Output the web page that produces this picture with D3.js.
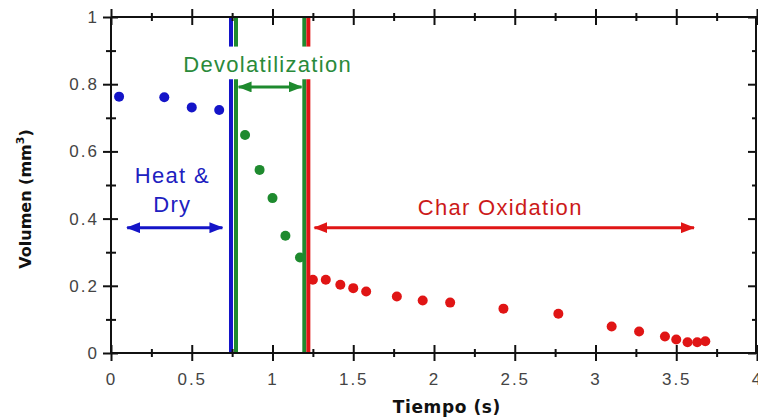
<!DOCTYPE html>
<html lang="es">
<head>
<meta charset="utf-8">
<title>Volumen vs Tiempo</title>
<script src="https://cdn.jsdelivr.net/npm/d3@7"></script>
<style>
  body { margin: 0; background: white; }
  svg { display: block; background: white; }
  .tick text { font-family: "Liberation Sans", Arial, sans-serif; font-size: 17px; letter-spacing: 2px; fill: #444; }
  .title { font-family: "DejaVu Sans", Verdana, sans-serif; font-weight: bold; font-size: 16px; fill: #111; }
  .note { font-family: "Liberation Sans", Arial, sans-serif; font-size: 22px; letter-spacing: 1.3px; }
</style>
</head>
<body>
<script>
// data
var heatT = [0.05, 0.33, 0.50, 0.67];
var heatV = [0.763, 0.761, 0.731, 0.723];
var devolT = [0.83, 0.92, 1.00, 1.08, 1.17];
var devolV = [0.649, 0.545, 0.461, 0.349, 0.284];
var charT = [1.25, 1.33, 1.42, 1.50, 1.58, 1.77, 1.93, 2.10, 2.43, 2.77, 3.10, 3.27, 3.43, 3.50, 3.57, 3.63, 3.68];
var charV = [0.218, 0.218, 0.203, 0.193, 0.183, 0.168, 0.156, 0.150, 0.132, 0.117, 0.079, 0.064, 0.049, 0.040, 0.032, 0.032, 0.035];

var xTicks = [0, 0.5, 1, 1.5, 2, 2.5, 3, 3.5, 4];
var xTickLabels = ["0", "0.5", "1", "1.5", "2", "2.5", "3", "3.5", "4"];
var xMinor = [0.25, 0.75, 1.25, 1.75, 2.25, 2.75, 3.25, 3.75];
var yTicks = [0, 0.2, 0.4, 0.6, 0.8, 1];
var yTickLabels = ["0", "0.2", "0.4", "0.6", "0.8", "1"];
var yMinor = [0.1, 0.3, 0.5, 0.7, 0.9];

// phase boundaries (time) and their colours
var boundT = [0.743, 0.774, 1.197, 1.222];
var boundColor = ["#1414c8", "#1e8a2e", "#1e8a2e", "#e01515"];
var gapV = [0.815, 0.912];   // break in the lines behind the label

var blue = "#1414c8", green = "#1e8a2e", red = "#e01515";

var W = 758, H = 418;
var svg = d3.select("body").append("svg").attr("width", W).attr("height", H);

var x = d3.scaleLinear().domain([0, 4]).range([111, 757]);
var y = d3.scaleLinear().domain([0, 1]).range([353, 17]);

var defs = svg.append("defs");
[["blue", blue], ["green", green], ["red", red]].forEach(function(c) {
  defs.append("marker")
    .attr("id", "arr-" + c[0])
    .attr("viewBox", "0 0 14 11")
    .attr("markerUnits", "userSpaceOnUse")
    .attr("markerWidth", 14).attr("markerHeight", 11)
    .attr("refX", 13).attr("refY", 5.5)
    .attr("orient", "auto-start-reverse")
    .append("path").attr("d", "M0,0L14,5.5L0,11Z").attr("fill", c[1]);
});

// phase boundary lines, broken for the label
boundT.forEach(function(t, i) {
  [[0, gapV[0]], [gapV[1], 1]].forEach(function(seg) {
    svg.append("line")
      .attr("x1", x(t)).attr("x2", x(t))
      .attr("y1", y(seg[0])).attr("y2", y(seg[1]))
      .attr("stroke", boundColor[i]).attr("stroke-width", 4);
  });
});

// axes
var axBottom = svg.append("g").attr("transform", "translate(0," + y(0) + ")")
  .call(d3.axisBottom(x).tickValues(xTicks).tickSize(8).tickPadding(12)
    .tickFormat(function(d, i) { return xTickLabels[i]; }));
axBottom.selectAll(".tick line").attr("y1", -8).attr("y2", 8);
var axBottomMinor = svg.append("g").attr("transform", "translate(0," + y(0) + ")")
  .call(d3.axisBottom(x).tickValues(xMinor).tickSize(4).tickFormat(""));
axBottomMinor.selectAll(".tick line").attr("y1", -4);

var axLeft = svg.append("g").attr("transform", "translate(" + x(0) + ",0)")
  .call(d3.axisLeft(y).tickValues(yTicks).tickSize(8).tickPadding(4)
    .tickFormat(function(d, i) { return yTickLabels[i]; }));
axLeft.selectAll(".tick line").attr("x1", -8).attr("x2", 7);
var axLeftMinor = svg.append("g").attr("transform", "translate(" + x(0) + ",0)")
  .call(d3.axisLeft(y).tickValues(yMinor).tickSize(5).tickFormat(""));
axLeftMinor.selectAll(".tick line").attr("x1", -5).attr("x2", 5);

var axTop = svg.append("g").attr("transform", "translate(0," + y(1) + ")")
  .call(d3.axisTop(x).tickValues(xTicks).tickSize(8).tickFormat(""));
axTop.selectAll(".tick line").attr("y1", -8).attr("y2", 8);
var axTopMinor = svg.append("g").attr("transform", "translate(0," + y(1) + ")")
  .call(d3.axisTop(x).tickValues(xMinor).tickSize(4).tickFormat(""));
axTopMinor.selectAll(".tick line").attr("y1", -4).attr("y2", 4);

var axRight = svg.append("g").attr("transform", "translate(" + (x(4) - 1) + ",0)")
  .call(d3.axisLeft(y).tickValues(yTicks).tickSize(8).tickFormat(""));
var axRightMinor = svg.append("g").attr("transform", "translate(" + (x(4) - 1) + ",0)")
  .call(d3.axisLeft(y).tickValues(yMinor).tickSize(4).tickFormat(""));

svg.selectAll(".domain").attr("stroke", "#111").attr("stroke-width", 2);
svg.selectAll(".tick line").attr("stroke", "#111").attr("stroke-width", 2);
// plain frame lines instead of d3's capped domain paths
[axBottomMinor, axLeftMinor, axTopMinor, axRightMinor].forEach(function(g) { g.select(".domain").remove(); });
axBottom.select(".domain").attr("d", "M" + x(0) + ",0H" + x(4));
axTop.select(".domain").attr("d", "M" + x(0) + ",0H" + x(4));
axLeft.select(".domain").attr("d", "M0," + y(0) + "V" + y(1));
axRight.select(".domain").attr("d", "M0," + y(0) + "V" + y(1));

// points
function dots(ts, vs, col) {
  svg.append("g").selectAll("circle")
    .data(ts.map(function(t, i) { return [t, vs[i]]; }))
    .enter().append("circle")
    .attr("cx", function(d) { return x(d[0]); })
    .attr("cy", function(d) { return y(d[1]); })
    .attr("r", 5)
    .attr("fill", col);
}
dots(heatT, heatV, blue);
dots(devolT, devolV, green);
dots(charT, charV, red);

// phase arrows
function arrow(t0, t1, v, name, col) {
  svg.append("line")
    .attr("x1", x(t0)).attr("x2", x(t1))
    .attr("y1", y(v)).attr("y2", y(v))
    .attr("stroke", col).attr("stroke-width", 3)
    .attr("marker-start", "url(#arr-" + name + ")")
    .attr("marker-end", "url(#arr-" + name + ")");
}
arrow(0.10, 0.69, 0.373, "blue", blue);
arrow(0.79, 1.18, 0.792, "green", green);
arrow(1.26, 3.61, 0.373, "red", red);

// phase labels
svg.append("text").attr("class", "note").attr("fill", "#2a8a3a")
  .attr("x", x(0.97)).attr("y", y(0.836)).attr("text-anchor", "middle")
  .text("Devolatilization");
svg.append("text").attr("class", "note").attr("fill", "#2020c0")
  .attr("x", x(0.38)).attr("y", y(0.506)).attr("text-anchor", "middle")
  .text("Heat &");
svg.append("text").attr("class", "note").attr("fill", "#2020c0")
  .attr("x", x(0.38)).attr("y", y(0.42)).attr("text-anchor", "middle")
  .text("Dry");
svg.append("text").attr("class", "note").attr("fill", "#cc1a1a")
  .attr("x", x(2.41)).attr("y", y(0.41)).attr("text-anchor", "middle")
  .text("Char Oxidation");

// axis titles
svg.append("text").attr("class", "title")
  .attr("x", x(2.08)).attr("y", 413).attr("text-anchor", "middle")
  .style("font-size", "17px").style("letter-spacing", "0.6px")
  .text("Tiempo (s)");
var yt = svg.append("text").attr("class", "title")
  .attr("transform", "translate(31,199) rotate(-90)")
  .attr("text-anchor", "middle");
yt.append("tspan").text("Volumen (mm");
yt.append("tspan").attr("font-size", "11px").attr("dy", -7).text("3");
yt.append("tspan").attr("dy", 7).text(")");
</script>
</body>
</html>
